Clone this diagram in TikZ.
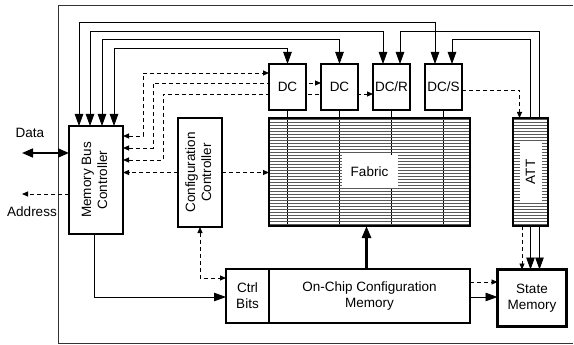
\documentclass[tikz,border=0pt]{standalone}
\usepackage{fontspec}
\setmainfont{Liberation Sans}
\usetikzlibrary{arrows.meta,positioning,patterns,backgrounds}
\newcommand{\vtext}[1]{\rotatebox{90}{\begin{tabular}{@{}c@{}}#1\end{tabular}}}

\begin{document}
\begin{tikzpicture}[x=1pt, y=-1pt,
  font=\fontsize{13.5}{16}\selectfont,
  blk/.style={draw, line width=2.6pt, fill=white, align=center, inner sep=1pt, outer sep=0pt},
  dcbox/.style={blk, minimum width=37pt, minimum height=46pt},
  hatched/.style={blk, fill=none, pattern=horizontal lines, pattern color=black!65},
  wire/.style={line width=0.8pt},
  bus/.style={wire, {Triangle[length=12pt,width=8.5pt]}-{Triangle[length=12pt,width=8.5pt]}},
  arrow/.style={wire, -{Triangle[length=12pt,width=8.5pt]}},
  darrow/.style={wire, dash pattern=on 4pt off 3pt, -{Triangle[length=6pt,width=5pt]}},
  dbus/.style={wire, dash pattern=on 4pt off 3pt, {Triangle[length=6pt,width=5pt]}-{Triangle[length=6pt,width=5pt]}}
]
\useasboundingbox (0,0) rectangle (574,345);
\draw[line width=0.6pt, black!80] (573,5) -- (58,5) -- (58,343) -- (573,343);

\node[blk, minimum width=54pt, minimum height=108pt] (mbc) at (96,180) {\vtext{Memory Bus\\Controller}};
\node[blk, minimum width=44pt, minimum height=109pt] (cc) at (200,172.5) {\vtext{Configuration\\Controller}};
\node[dcbox] (dc1) at (287.5,87) {DC};
\node[dcbox, right=15pt of dc1] (dc2) {DC};
\node[dcbox, right=15pt of dc2] (dcr) {DC/R};
\node[dcbox, right=15pt of dcr] (dcs) {DC/S};
\node[hatched, minimum width=201pt, minimum height=108pt,
  label={[fill=white, minimum width=56pt, minimum height=33pt, inner sep=0pt]center:Fabric}] (fab) at (369.5,172) {};
\node[hatched, minimum width=35pt, minimum height=108pt,
  label={[fill=white, rotate=90, minimum width=62pt, minimum height=22pt, inner sep=0pt]center:ATT}] (att) at (530.5,172) {};
\node[blk, minimum width=43pt, minimum height=54pt] (ctrl) at (247.5,296) {Ctrl\\Bits};
\node[blk, minimum width=201pt, minimum height=54pt, right=0pt of ctrl] (ocm) {On-Chip Configuration\\Memory};
\node[blk, minimum width=69pt, minimum height=57pt] (sm) at (532,298) {State\\Memory};

\coordinate (datain) at (22,153);
\coordinate (addrout) at (22,194);
\node (datalbl) at (30,133) {Data};
\node (addrlbl) at (32,212) {Address};

% lines running behind the boxes
\begin{scope}[on background layer]
\draw[wire] (dc1.south) -- (dc1.south |- fab.south);
\draw[wire] (dc2.south) -- (dc2.south |- fab.south);
\draw[wire] (dcr.south) -- (dcr.south |- fab.south);
\draw[wire] (dcs.south) -- (dcs.south |- fab.south);
\draw[dbus] ([yshift=44pt]mbc.east) -| ++(20,-63) -- ([yshift=14pt]dc1.west);
\draw[dbus] ([yshift=32pt]mbc.east) -| ++(30,-65) -- ([yshift=4pt]dc2.west);
\draw[dbus] ([yshift=20pt]mbc.east) -| ++(40,-66) -- ([yshift=-7pt]dcr.west);
\end{scope}

\draw[bus] ([xshift=10pt]mbc.north west) -- ++(0,-104) -| ([xshift=-8.5pt]dcs.north);
\draw[bus] ([xshift=21pt]mbc.north west) -- ++(0,-95) -| ([xshift=-8.5pt]dcr.north);
\draw[bus] ([xshift=33pt]mbc.north west) -- ++(0,-87) -| (dc2.north);
\draw[bus] ([xshift=45pt]mbc.north west) -- ++(0,-78) -| (dc1.north);
\draw[arrow] ([xshift=8.5pt]att.north) -- ++(0,-87) -| ([xshift=8.5pt]dcr.north);
\draw[arrow] (att.north) -- ++(0,-79) -| ([xshift=8.5pt]dcs.north);
\draw[darrow] ([yshift=-3pt]dcs.east) -| ([xshift=-11pt]att.north);

\draw[darrow] (cc.west) -- (cc.west -| mbc.east);
\draw[darrow] (cc.east) -- (cc.east -| fab.west);
\draw[dbus] (cc.south) |- ([yshift=18pt]ctrl.west);
\draw[arrow] ([xshift=-2pt]mbc.south) |- ([yshift=-1pt]ctrl.west);

\draw[line width=2.8pt, -{Triangle[length=12pt,width=9pt]}] ([xshift=-3pt]ocm.north) -- ([xshift=-3pt]fab.south);
\draw[darrow] ([yshift=14pt]ocm.east) -- ([yshift=14pt]ocm.east -| sm.west);
\draw[arrow] ([yshift=-1pt]ocm.east) -- ([yshift=-1pt]ocm.east -| sm.west);
\draw[darrow] ([xshift=-8.5pt]att.south) -- ([xshift=-8.5pt]att.south |- sm.north);
\draw[arrow] (att.south) -- (att.south |- sm.north);
\draw[arrow] ([xshift=9pt]att.south) -- ([xshift=9pt]att.south |- sm.north);

\draw[line width=1.6pt, {Triangle[length=11pt,width=9pt]}-{Triangle[length=11pt,width=9pt]}] (datain -| mbc.west) -- (datain);
\draw[darrow] (addrout -| mbc.west) -- (addrout);
\end{tikzpicture}
\end{document}
